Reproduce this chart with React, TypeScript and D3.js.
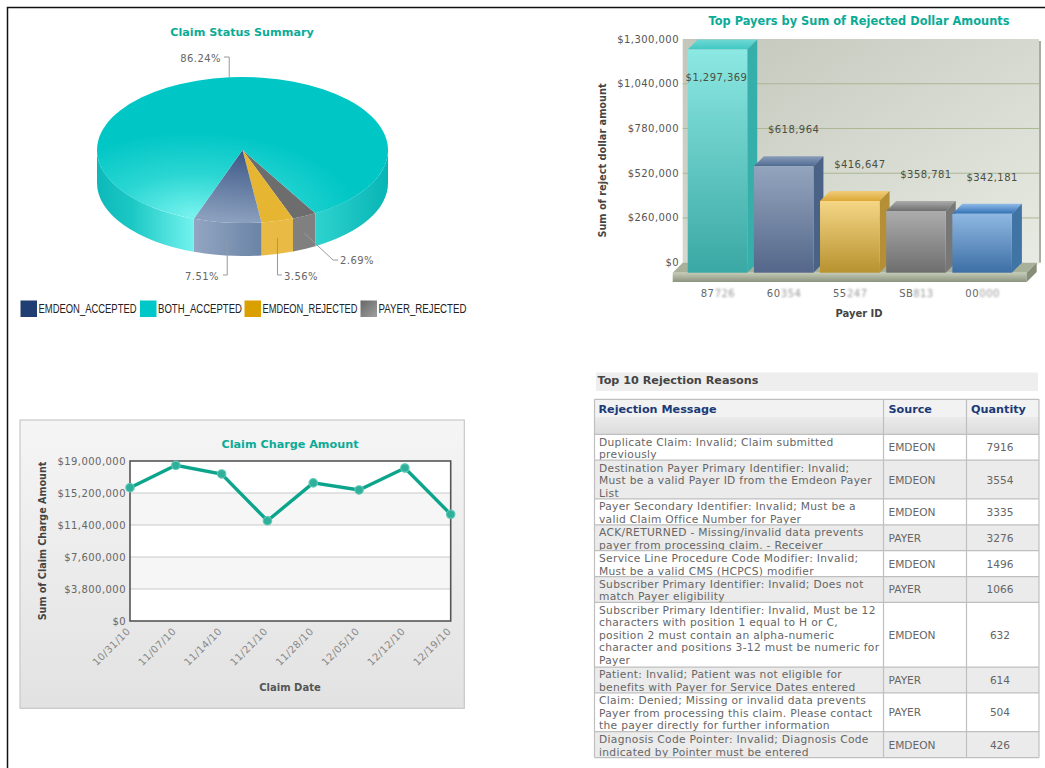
import * as d3 from "d3";
import React from "react";

// ---- data ----
const pieCategories = ["EMDEON_ACCEPTED", "BOTH_ACCEPTED", "EMDEON_REJECTED", "PAYER_REJECTED"];
const pieValues = [7.51, 86.24, 3.56, 2.69];
const pieDrawOrder = [3, 2, 0, 1]; // clockwise, starting at the lower right

const payerPrefixes = ["87", "60", "55", "SB", "00"];
const payerHidden = ["726", "354", "247", "813", "000"]; // blurred in the source
const payerAmounts = [1297369, 618964, 416647, 358781, 342181];
const payerTicks = [0, 260000, 520000, 780000, 1040000, 1300000];

const claimDates = ["10/31/10", "11/07/10", "11/14/10", "11/21/10", "11/28/10", "12/05/10", "12/12/10", "12/19/10"];
const claimAmounts = [15830000, 18490000, 17460000, 11900000, 16400000, 15560000, 18170000, 12670000];
const claimTicks = [0, 3800000, 7600000, 11400000, 15200000, 19000000];

const tableHeaders = ["Rejection Message", "Source", "Quantity"];
const rejectionMessages = [
  ["Duplicate Claim: Invalid; Claim submitted", "previously"],
  ["Destination Payer Primary Identifier: Invalid;", "Must be a valid Payer ID from the Emdeon Payer", "List"],
  ["Payer Secondary Identifier: Invalid; Must be a", "valid Claim Office Number for Payer"],
  ["ACK/RETURNED - Missing/invalid data prevents", "payer from processing claim. - Receiver"],
  ["Service Line Procedure Code Modifier: Invalid;", "Must be a valid CMS (HCPCS) modifier"],
  ["Subscriber Primary Identifier: Invalid; Does not", "match Payer eligibility"],
  ["Subscriber Primary Identifier: Invalid, Must be 12", "characters with position 1 equal to H or C,", "position 2 must contain an alpha-numeric", "character and positions 3-12 must be numeric for", "Payer"],
  ["Patient: Invalid; Patient was not eligible for", "benefits with Payer for Service Dates entered"],
  ["Claim: Denied; Missing or invalid data prevents", "Payer from processing this claim. Please contact", "the payer directly for further information"],
  ["Diagnosis Code Pointer: Invalid; Diagnosis Code", "indicated by Pointer must be entered"],
];
const rejectionSources = ["EMDEON", "EMDEON", "EMDEON", "PAYER", "EMDEON", "PAYER", "EMDEON", "PAYER", "PAYER", "EMDEON"];
const rejectionQuantities = [7916, 3554, 3335, 3276, 1496, 1066, 632, 614, 504, 426];

const FONT = "'DejaVu Sans', Verdana, sans-serif";
const TITLE_COLOR = "#0aab96";
const TICK_SPACING = 0.45; // the original's tick text runs a bit wider than DejaVu
const deg = Math.PI / 180;

function PieChart() {
  const cx = 242.5, cy = 150, rx = 145.5, ry = 73, depth = 33;
  const slices = d3
    .pie<number>()
    .value((i) => pieValues[i])
    .sort(null)
    .startAngle(150 * deg)
    .endAngle(510 * deg)(pieDrawOrder);
  const arc = d3.arc<any>().innerRadius(0).outerRadius(rx);
  const px = (a: number) => cx + rx * Math.sin(a);
  const py = (a: number) => cy - ry * Math.cos(a);

  const topFill = ["url(#pieTopBlue)", "url(#pieTopTeal)", "#e6b632", "#6d6d6d"];
  const sideFill = ["url(#pieSideBlue)", "url(#pieSideTeal)", "#e9bb45", "#808080"];
  const legendFill = ["#1f3f73", "#00c8c8", "#d9a000", "url(#legendGrey)"];
  const legendX = [20.5, 140, 244.5, 360.5];
  const legendLen = [98, 84, 95, 88];

  // only the front half of the rim is visible
  const walls: { d: string; fill: string }[] = [];
  slices.forEach((s) => {
    [0, 1].forEach((k) => {
      const lo = Math.max(s.startAngle, 90 * deg + k * 2 * Math.PI);
      const hi = Math.min(s.endAngle, 270 * deg + k * 2 * Math.PI);
      if (hi <= lo) return;
      walls.push({
        d: `M${px(lo)},${py(lo)}A${rx},${ry} 0 0 1 ${px(hi)},${py(hi)}L${px(hi)},${py(hi) + depth}A${rx},${ry} 0 0 0 ${px(lo)},${py(lo) + depth}Z`,
        fill: sideFill[s.data],
      });
    });
  });

  const callouts: Record<number, (x: number, y: number) => { path: string; tx: number; ty: number; anchor: string }> = {
    1: (x, y) => ({ path: `M${x},${y}V57H224`, tx: 221, ty: 62, anchor: "end" }),
    0: (x, y) => ({ path: `M${x},${y + 17}V275H223`, tx: 219, ty: 280, anchor: "end" }),
    2: (x, y) => ({ path: `M${x},${y + 17}V275H282`, tx: 284, ty: 280, anchor: "start" }),
    3: (x, y) => ({ path: `M${x},${y + 17}L333,260H338`, tx: 340, ty: 264, anchor: "start" }),
  };

  return (
    <g>
      <defs>
        <radialGradient id="pieTopTeal" gradientUnits="userSpaceOnUse" cx={-49.5} cy={129.5} r={165}>
          <stop offset="0" stopColor="#76f2ee" />
          <stop offset="0.5" stopColor="#2ad6d2" />
          <stop offset="1" stopColor="#00c6c6" />
        </radialGradient>
        <linearGradient id="pieTopBlue" gradientUnits="userSpaceOnUse" x1={0} y1={0} x2={-30} y2={135}>
          <stop offset="0" stopColor="#3c5786" />
          <stop offset="1" stopColor="#8a9fbd" />
        </linearGradient>
        <linearGradient id="pieSideTeal" gradientUnits="userSpaceOnUse" x1={97} y1={0} x2={388} y2={0}>
          <stop offset="0" stopColor="#0cb9b9" />
          <stop offset="0.12" stopColor="#1cc8c4" />
          <stop offset="0.33" stopColor="#72f2ee" />
          <stop offset="0.75" stopColor="#2ed3cf" />
          <stop offset="1" stopColor="#08b5b5" />
        </linearGradient>
        <linearGradient id="pieSideBlue" x1="0" y1="0" x2="1" y2="0">
          <stop offset="0" stopColor="#93a6c2" />
          <stop offset="1" stopColor="#6a84a6" />
        </linearGradient>
        <linearGradient id="legendGrey" x1="0" y1="0" x2="1" y2="1">
          <stop offset="0" stopColor="#666" />
          <stop offset="1" stopColor="#a0a0a0" />
        </linearGradient>
      </defs>
      <text x={242} y={36} textAnchor="middle" fontFamily={FONT} fontWeight="bold" fontSize={11.2} fill={TITLE_COLOR}>
        Claim Status Summary
      </text>
      {walls.map((w, i) => (
        <path key={i} d={w.d} fill={w.fill} />
      ))}
      <g transform={`translate(${cx},${cy}) scale(1,${ry / rx})`}>
        {slices.map((s) => (
          <path key={s.data} d={arc(s) as string} fill={topFill[s.data]} />
        ))}
      </g>
      {slices.map((s) => {
        const mid = (s.startAngle + s.endAngle) / 2;
        const c = callouts[s.data](px(mid), py(mid));
        return (
          <g key={s.data}>
            <path d={c.path} fill="none" stroke="#999" strokeWidth={1} />
            <text x={c.tx} y={c.ty} textAnchor={c.anchor} fontFamily={FONT} fontSize={10} letterSpacing={TICK_SPACING} fill="#666">
              {d3.format(".2f")(pieValues[s.data])}%
            </text>
          </g>
        );
      })}
      {pieCategories.map((name, i) => (
        <g key={name}>
          <rect x={legendX[i]} y={300.5} width={16.5} height={16.5} fill={legendFill[i]} />
          <text x={legendX[i] + 18} y={313} fontFamily="'Liberation Sans', Arial, sans-serif" fontSize={12} fill="#222" textLength={legendLen[i]} lengthAdjust="spacingAndGlyphs">
            {name}
          </text>
        </g>
      ))}
    </g>
  );
}

function BarChart() {
  const d = 10; // 3d depth
  const baseY = 272.7;
  const x = d3.scaleBand<number>().domain(d3.range(payerAmounts.length)).range([684.4, 1015.2]).paddingInner(0.1).paddingOuter(0.05);
  const y = d3.scaleLinear().domain([0, 1300000]).range([baseY, 49]);
  const wallL = 682.7, wallR = 1039;
  const money = d3.format("$,");
  const bw = x.bandwidth();
  const palette = ["Teal", "Blue", "Gold", "Grey", "Sky"];
  const sideColor = ["#36aeaa", "#4a6285", "#b58f35", "#777777", "#3f74a5"];
  const colors: Record<string, [string, string, string, string]> = {
    Teal: ["#8ce8e2", "#3aa8a4", "#3fc8c4", "#70d8d4"],
    Blue: ["#93a5bd", "#55678a", "#4f6a92", "#8a9dba"],
    Gold: ["#f4d685", "#b8922f", "#dca836", "#f0cc78"],
    Grey: ["#acacac", "#6e6e6e", "#6e6e6e", "#acacac"],
    Sky: ["#8fb8e2", "#3d6fa5", "#2f6fb5", "#8fbbe8"],
  };

  return (
    <g>
      <defs>
        <linearGradient id="wall" x1="0" y1="0" x2="1" y2="1">
          <stop offset="0" stopColor="#c3c6ba" />
          <stop offset="1" stopColor="#e8ebe3" />
        </linearGradient>
        <linearGradient id="floorFront" x1="0" y1="0" x2="0" y2="1">
          <stop offset="0" stopColor="#c4cbb6" />
          <stop offset="1" stopColor="#8c9480" />
        </linearGradient>
        <filter id="idBlur">
          <feGaussianBlur stdDeviation="1.1" />
        </filter>
        {palette.map((p) => (
          <React.Fragment key={p}>
            <linearGradient id={`front${p}`} x1="0" y1="0" x2="0" y2="1">
              <stop offset="0" stopColor={colors[p][0]} />
              <stop offset="1" stopColor={colors[p][1]} />
            </linearGradient>
            <linearGradient id={`top${p}`} x1="0" y1="1" x2="0" y2="0">
              <stop offset="0" stopColor={colors[p][2]} />
              <stop offset="1" stopColor={colors[p][3]} />
            </linearGradient>
          </React.Fragment>
        ))}
      </defs>
      <text x={859} y={25} textAnchor="middle" fontFamily={FONT} fontWeight="bold" fontSize={11.4} fill={TITLE_COLOR}>
        Top Payers by Sum of Rejected Dollar Amounts
      </text>
      <rect x={wallL} y={39} width={wallR - wallL} height={baseY - d - 39 + 2} fill="url(#wall)" />
      <rect x={wallR} y={41} width={2} height={baseY - d - 41} fill="#a9aca0" />
      {payerTicks.map((t) => (
        <g key={t}>
          {t > 0 && t < 1300000 && <line x1={wallL} x2={wallR} y1={y(t) - d} y2={y(t) - d} stroke="#aab694" strokeWidth={1} />}
          <text x={679} y={y(t) - d + 3.5} textAnchor="end" fontFamily={FONT} fontSize={10} letterSpacing={TICK_SPACING} fill="#555">
            {money(t)}
          </text>
        </g>
      ))}
      {/* floor */}
      <path d={`M672.7,${baseY}L682.7,${baseY - d}H1036.7L1026.7,${baseY}Z`} fill="#a9b09a" />
      <rect x={672.7} y={baseY} width={354} height={9.3} fill="url(#floorFront)" />
      <path d={`M1026.7,${baseY}L1036.7,${baseY - d}V${baseY - 0.7}L1026.7,${baseY + 9.3}Z`} fill="#868d78" />
      {payerAmounts.map((v, i) => {
        const x0 = x(i) as number;
        const top = y(v);
        return (
          <g key={i}>
            <path d={`M${x0},${top}L${x0 + d},${top - d}H${x0 + bw + d}L${x0 + bw},${top}Z`} fill={`url(#top${palette[i]})`} />
            <path d={`M${x0 + bw},${top}L${x0 + bw + d},${top - d}V${baseY - d}L${x0 + bw},${baseY}Z`} fill={sideColor[i]} />
            <rect x={x0} y={top} width={bw} height={baseY - top} fill={`url(#front${palette[i]})`} />
          </g>
        );
      })}
      {payerAmounts.map((v, i) => {
        const x0 = x(i) as number;
        const outside = y(v) - 37 < 39;
        return (
          <text key={i} x={x0 + bw / 2 + (outside ? -1 : 10)} y={(outside ? y(v) + 28 : y(v) - 37) + 4} textAnchor="middle" fontFamily={FONT} fontSize={10} letterSpacing={TICK_SPACING} fill="#4a4f42">
            {money(v)}
          </text>
        );
      })}
      {payerPrefixes.map((p, i) => {
        const x0 = (x(i) as number) + 13;
        return (
          <g key={p} fontFamily={FONT} fontSize={10} letterSpacing={TICK_SPACING} fill="#666">
            <text x={x0} y={297}>{p}</text>
            <text x={x0 + 14} y={297} filter="url(#idBlur)" fill="#999">{payerHidden[i]}</text>
          </g>
        );
      })}
      <text x={859} y={317} textAnchor="middle" fontFamily={FONT} fontWeight="bold" fontSize={10} fill="#444">
        Payer ID
      </text>
      <text transform="translate(606,160.5) rotate(-90)" textAnchor="middle" fontFamily={FONT} fontWeight="bold" fontSize={9.75} fill="#444">
        Sum of reject dollar amount
      </text>
    </g>
  );
}

function LineChart() {
  const x = d3.scalePoint<string>().domain(claimDates).range([130, 450.7]);
  const y = d3.scaleLinear().domain([0, 19000000]).range([621, 461]);
  const line = d3
    .line<number>()
    .x((_, i) => x(claimDates[i]) as number)
    .y((v) => y(v));
  const money = d3.format("$,");
  const bands = [
    [claimTicks[3], claimTicks[4]],
    [claimTicks[1], claimTicks[2]],
  ];

  return (
    <g>
      <defs>
        <linearGradient id="panel" x1="0" y1="0" x2="0" y2="1">
          <stop offset="0" stopColor="#f5f5f5" />
          <stop offset="1" stopColor="#e2e2e2" />
        </linearGradient>
      </defs>
      <rect x={20} y={420} width={444.3} height={288.3} fill="url(#panel)" stroke="#c8c8c8" strokeWidth={1.2} />
      <text x={290} y={447.5} textAnchor="middle" fontFamily={FONT} fontWeight="bold" fontSize={11.2} fill={TITLE_COLOR}>
        Claim Charge Amount
      </text>
      <rect x={130} y={461} width={320.7} height={160} fill="#fff" />
      {bands.map(([a, b]) => (
        <rect key={a} x={130} width={320.7} y={y(b)} height={y(a) - y(b)} fill="#f6f6f6" />
      ))}
      {claimTicks.map((t) => (
        <g key={t}>
          {t > 0 && t < 19000000 && <line x1={130} x2={450.7} y1={y(t)} y2={y(t)} stroke="#c9c9c9" />}
          <text x={126} y={y(t) + 4} textAnchor="end" fontFamily={FONT} fontSize={10} letterSpacing={TICK_SPACING} fill="#666">
            {money(t)}
          </text>
        </g>
      ))}
      <rect x={130} y={461} width={320.7} height={160} fill="none" stroke="#555" strokeWidth={1.6} />
      <path d={line(claimAmounts) as string} fill="none" stroke="#0ca58c" strokeWidth={3.4} />
      {claimAmounts.map((v, i) => (
        <circle key={i} cx={x(claimDates[i])} cy={y(v)} r={4.2} fill="#2eb09a" stroke="#5cc9b6" strokeWidth={1.2} />
      ))}
      {claimDates.map((dt) => (
        <text key={dt} transform={`translate(${(x(dt) as number) + 1},${632}) rotate(-45)`} textAnchor="end" fontFamily={FONT} fontSize={10} letterSpacing={TICK_SPACING} fill="#888">
          {dt}
        </text>
      ))}
      <text x={290} y={691} textAnchor="middle" fontFamily={FONT} fontWeight="bold" fontSize={10} fill="#555">
        Claim Date
      </text>
      <text transform="translate(46,541) rotate(-90)" textAnchor="middle" fontFamily={FONT} fontWeight="bold" fontSize={9.6} fill="#444">
        Sum of Claim Charge Amount
      </text>
    </g>
  );
}

function RejectionTable() {
  const lineH = 12.93;
  const colX = [594.5, 883.5, 966.5, 1039];
  const headTop = 399.3, headMid = 417, bodyTop = 434.3;
  const rowTops = [bodyTop];
  rejectionMessages.forEach((m, i) => rowTops.push(rowTops[i] + m.length * lineH));
  const bottom = rowTops[rowTops.length - 1];
  const headX = [598.5, 888.5, 998.5];
  const headAnchor = ["start", "start", "middle"];

  return (
    <g fontFamily={FONT}>
      <defs>
        <linearGradient id="headBand" x1="0" y1="0" x2="0" y2="1">
          <stop offset="0" stopColor="#ebebeb" />
          <stop offset="1" stopColor="#dcdcdc" />
        </linearGradient>
      </defs>
      <rect x={596} y={372.5} width={442} height={18.5} fill="#eeeeee" />
      <text x={597.5} y={384} fontWeight="bold" fontSize={11.2} fill="#444">
        Top 10 Rejection Reasons
      </text>
      <rect x={colX[0]} y={headTop} width={colX[3] - colX[0]} height={headMid - headTop} fill="#f2f2f2" />
      <rect x={colX[0]} y={headMid} width={colX[3] - colX[0]} height={bodyTop - headMid} fill="url(#headBand)" />
      {tableHeaders.map((h, i) => (
        <text key={h} x={headX[i]} y={412.5} textAnchor={headAnchor[i]} fontWeight="bold" fontSize={11.2} fill="#1b3a78">
          {h}
        </text>
      ))}
      {rejectionMessages.map((lines, i) => {
        const top = rowTops[i];
        const mid = (top + rowTops[i + 1]) / 2;
        return (
          <g key={i}>
            <rect x={colX[0]} y={top} width={colX[3] - colX[0]} height={rowTops[i + 1] - top} fill={i % 2 ? "#ebebeb" : "#ffffff"} />
            {lines.map((l, j) => (
              <text key={j} x={599} y={top + 11.4 + j * 12.55} fontSize={10.7} letterSpacing={0.3} fill="#666">
                {l}
              </text>
            ))}
            <text x={888.5} y={mid + 4} fontSize={10.6} fill="#666">
              {rejectionSources[i]}
            </text>
            <text x={1000} y={mid + 4} textAnchor="middle" fontSize={10.6} fill="#666">
              {rejectionQuantities[i]}
            </text>
          </g>
        );
      })}
      {[headTop, bodyTop, ...rowTops.slice(1)].map((yy, i) => (
        <line key={i} x1={colX[0]} x2={colX[3]} y1={yy} y2={yy} stroke="#bfbfbf" strokeWidth={1.2} />
      ))}
      {colX.map((xx) => (
        <line key={xx} x1={xx} x2={xx} y1={headTop} y2={bottom} stroke="#bfbfbf" strokeWidth={1.2} />
      ))}
    </g>
  );
}

export default function App() {
  return (
    <svg width={1045} height={768} style={{ position: "absolute", left: 0, top: 0, background: "#fff" }}>
      <path d="M1045,7.5H7.5V768" fill="none" stroke="#111" strokeWidth={1.5} />
      <PieChart />
      <BarChart />
      <LineChart />
      <RejectionTable />
    </svg>
  );
}
